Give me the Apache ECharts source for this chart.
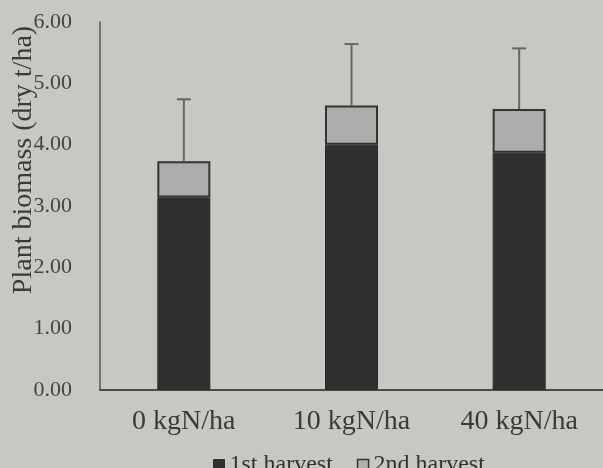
<!DOCTYPE html>
<html><head><meta charset="utf-8">
<script src="https://cdn.jsdelivr.net/npm/echarts@6/dist/echarts.min.js"></script>
<style>html,body{margin:0;padding:0;background:#c7c7c3;}#c{width:603px;height:468px;}</style>
</head><body><div id="c"></div>
<script>
const categories = ['0 kgN/ha', '10 kgN/ha', '40 kgN/ha'];
const firstHarvest = [3.14, 4.00, 3.87];
const secondHarvest = [0.59, 0.64, 0.71];
const errorUp = [1.01, 1.00, 0.99];
const yTicks = [0, 1, 2, 3, 4, 5, 6];

const totals = firstHarvest.map((v, i) => v + secondHarvest[i]);
const font = '"Liberation Serif", "DejaVu Serif", serif';
const chart = echarts.init(document.getElementById('c'));
chart.setOption({
  backgroundColor: '#c7c7c3',
  animation: false,
  textStyle: { fontFamily: font },
  grid: { left: 100, right: 0, top: 22, bottom: 78, outerBoundsMode: 'none', containLabel: false },
  legend: {
    top: 448, left: 208,
    itemWidth: 11, itemHeight: 11, itemGap: 24,
    textStyle: { fontFamily: font, fontSize: 24, color: '#333' },
    data: [
      { name: '1st harvest', icon: 'rect', itemStyle: { color: '#2f3130', borderColor: '#2f3130', borderWidth: 1 } },
      { name: '2nd harvest', icon: 'rect', itemStyle: { color: '#b0b1ae', borderColor: '#333', borderWidth: 1.5 } }
    ]
  },
  xAxis: {
    type: 'category', data: categories,
    axisLine: { lineStyle: { color: '#4a4a4a', width: 2 } },
    axisTick: { show: false },
    axisLabel: { fontFamily: font, fontSize: 28, color: '#3a3a3a', margin: 18 }
  },
  yAxis: {
    type: 'value', min: 0, max: 6, interval: 1,
    name: 'Plant biomass (dry t/ha)', nameLocation: 'middle', nameRotate: 90, nameGap: 62,
    nameMoveOverlap: false,
    nameTextStyle: { fontFamily: font, fontSize: 28, color: '#3a3a3a', padding: [0, 0, 0, 92] },
    axisLine: { show: true, lineStyle: { color: '#555', width: 1.5 } },
    axisTick: { show: false },
    splitLine: { show: false },
    axisLabel: { fontFamily: font, fontSize: 22, color: '#444', margin: 28,
      formatter: v => yTicks.includes(v) ? v.toFixed(2) : '' }
  },
  series: [
    { name: '1st harvest', type: 'bar', stack: 'h', barWidth: 53, data: firstHarvest,
      itemStyle: { color: '#2f3130', borderColor: '#2a2a2a', borderWidth: 1 } },
    { name: '2nd harvest', type: 'bar', stack: 'h', barWidth: 53, data: secondHarvest,
      itemStyle: { color: '#acadaa', borderColor: '#333', borderWidth: 2 } },
    { name: 'err', type: 'custom', z: 5,
      data: totals.map((t, i) => [i, t, t + errorUp[i]]),
      renderItem: (params, api) => {
        const p0 = api.coord([api.value(0), api.value(1)]);
        const p1 = api.coord([api.value(0), api.value(2)]);
        const hw = 7;
        return { type: 'group', children: [
          { type: 'line', shape: { x1: p0[0], y1: p0[1], x2: p1[0], y2: p1[1] }, style: { stroke: '#666', lineWidth: 2 } },
          { type: 'line', shape: { x1: p1[0] - hw, y1: p1[1], x2: p1[0] + hw, y2: p1[1] }, style: { stroke: '#666', lineWidth: 2 } }
        ]};
      }
    }
  ]
});
</script></body></html>
